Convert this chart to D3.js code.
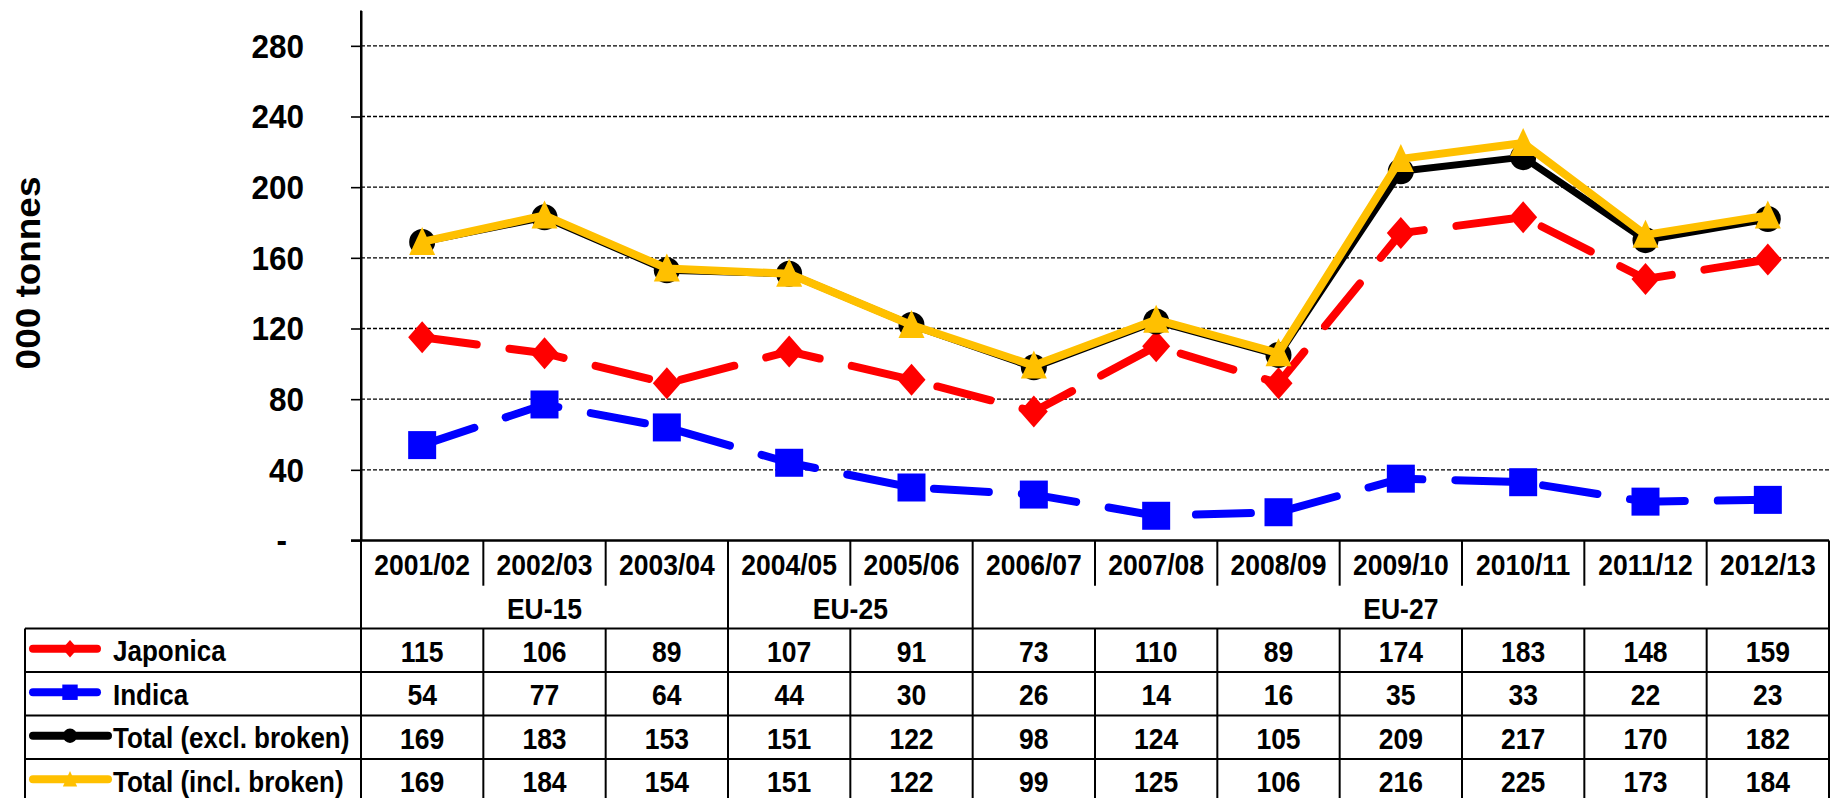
<!DOCTYPE html>
<html>
<head>
<meta charset="utf-8">
<script src="https://cdn.jsdelivr.net/npm/d3@7/dist/d3.min.js"></script>
<style>
  body { margin: 0; background: #fff; }
  text { font-family: "Liberation Sans", Arial, sans-serif; font-weight: bold; fill: #000; }
</style>
</head>
<body>
<div id="chart"></div>
<script>
// Données
const years = ["2001/02", "2002/03", "2003/04", "2004/05", "2005/06", "2006/07",
               "2007/08", "2008/09", "2009/10", "2010/11", "2011/12", "2012/13"];
const japonica  = [115, 106, 89, 107, 91, 73, 110, 89, 174, 183, 148, 159];
const indica    = [54, 77, 64, 44, 30, 26, 14, 16, 35, 33, 22, 23];
const totalExcl = [169, 183, 153, 151, 122, 98, 124, 105, 209, 217, 170, 182];
const totalIncl = [169, 184, 154, 151, 122, 99, 125, 106, 216, 225, 173, 184];
const seriesNames = ["Japonica", "Indica", "Total (excl. broken)", "Total (incl. broken)"];
const groupLabels = ["EU-15", "EU-25", "EU-27"];
const groupSizes = [3, 2, 7];
const yTicks = [0, 40, 80, 120, 160, 200, 240, 280];

// Styles des séries
const styles = [
  { color: "#FF0000", width: 8, dash: "55 33", marker: "diamond" },
  { color: "#0000FF", width: 8, dash: "55 33", marker: "square" },
  { color: "#000000", width: 7, dash: null,    marker: "circle" },
  { color: "#FFC000", width: 8, dash: null,    marker: "triangle" }
];
const seriesValues = [japonica, indica, totalExcl, totalIncl];

// Dimensions
const width = 1831, height = 798;
const axisX = 361, rightX = 1829;
const yearRowBottom = 585.7, euRowBottom = 628.5, rowH = 43.5;
const legendLeft = 25;
const stretch = 1.13; // le texte de l'original est un peu étiré en hauteur

const svg = d3.select("#chart").append("svg")
    .attr("width", width)
    .attr("height", height);

// Échelles
const x = d3.scaleBand().domain(years).range([axisX, rightX]);
const y = d3.scaleLinear().domain([0, 300]).range([540.5, 10.5]);
const cx = i => x(years[i]) + x.bandwidth() / 2;

// place un texte centré verticalement sur (px, py), étiré
function place(sel, fx, fy) {
  return sel.attr("transform", (d, i) => `translate(${fx(d, i)},${fy(d, i)}) scale(1,${stretch})`)
    .attr("dy", "0.36em");
}

// Lignes de grille
svg.append("g")
  .selectAll("line")
  .data(yTicks.filter(d => d > 0))
  .enter().append("line")
  .attr("x1", axisX).attr("x2", rightX)
  .attr("y1", d => y(d)).attr("y2", d => y(d))
  .attr("stroke", "#000")
  .attr("stroke-width", 1.4)
  .attr("stroke-dasharray", "4 2");

// Axe Y
const yAxis = svg.append("g")
  .attr("transform", `translate(${axisX},0)`)
  .call(d3.axisLeft(y).tickValues(yTicks).tickSize(10).tickSizeOuter(0).tickPadding(47)
        .tickFormat(d => d === 0 ? "-" : d));
yAxis.attr("font-size", 31.5);
yAxis.select(".domain").attr("stroke-width", 2);
yAxis.selectAll(".tick line").attr("stroke-width", 1.6);
yAxis.selectAll(".tick text")
  .attr("dy", "0.33em")
  .attr("x", d => d === 0 ? -74 : -57)
  .attr("transform", "scale(1,1.08)");

// Titre de l'axe Y
svg.append("text")
  .attr("transform", "translate(40,273) rotate(-90) scale(1.04,1)")
  .attr("text-anchor", "middle")
  .attr("font-size", 35.5)
  .text("000 tonnes");

// Formes des marqueurs
function markerPath(type, s) {
  const p = d3.path();
  if (type === "diamond") {
    p.moveTo(0, -16 * s); p.lineTo(14 * s, 0); p.lineTo(0, 16 * s); p.lineTo(-14 * s, 0); p.closePath();
  } else if (type === "square") {
    p.rect(-14 * s, -14 * s, 28 * s, 28 * s);
  } else if (type === "circle") {
    p.arc(0, 0, 13 * s, 0, 2 * Math.PI);
  } else {
    p.moveTo(0, -15 * s); p.lineTo(13 * s, 13 * s); p.lineTo(-13 * s, 13 * s); p.closePath();
  }
  return p.toString();
}

// Séries
const line = d3.line().x((d, i) => cx(i)).y(d => y(d));
seriesValues.forEach((vals, k) => {
  const st = styles[k];
  svg.append("path")
    .datum(vals)
    .attr("d", line)
    .attr("fill", "none")
    .attr("stroke", st.color)
    .attr("stroke-width", st.width)
    .attr("stroke-linecap", "round")
    .attr("stroke-linejoin", "round")
    .attr("stroke-dasharray", st.dash);
  svg.append("g")
    .selectAll("path")
    .data(vals)
    .enter().append("path")
    .attr("transform", (d, i) => `translate(${cx(i)},${y(d)})`)
    .attr("d", markerPath(st.marker, 1))
    .attr("fill", st.color);
});

// Tableau
const tbl = svg.append("g");
const stroke = (sel, w) => sel.attr("stroke", "#000").attr("stroke-width", w);

// ligne du zéro
stroke(tbl.append("line").attr("x1", axisX - 10).attr("x2", rightX)
  .attr("y1", y(0)).attr("y2", y(0)), 2.6);

// séparateurs horizontaux des lignes de données
const rowTops = seriesNames.map((d, i) => euRowBottom + i * rowH);
stroke(tbl.selectAll(".hrow").data(rowTops).enter().append("line")
  .attr("x1", legendLeft).attr("x2", rightX)
  .attr("y1", d => d).attr("y2", d => d), 2);

// bord gauche de la légende
stroke(tbl.append("line").attr("x1", legendLeft).attr("x2", legendLeft)
  .attr("y1", euRowBottom).attr("y2", height), 2);

// séparateurs verticaux
const groupEnds = d3.cumsum(groupSizes);
const colEdges = d3.range(years.length + 1);
stroke(tbl.selectAll(".vcol").data(colEdges).enter().append("line")
  .attr("x1", i => axisX + i * x.step()).attr("x2", i => axisX + i * x.step())
  .attr("y1", i => i === 0 ? y(300) : y(0))
  .attr("y2", i => (i === 0 || i === years.length || groupEnds.includes(i)) ? height : yearRowBottom), 2);
stroke(tbl.selectAll(".vcol2").data(colEdges.filter(i => i > 0 && i < years.length && !groupEnds.includes(i)))
  .enter().append("line")
  .attr("x1", i => axisX + i * x.step()).attr("x2", i => axisX + i * x.step())
  .attr("y1", euRowBottom).attr("y2", height), 2);

// années
place(tbl.selectAll(".year").data(years).enter().append("text"),
      (d, i) => cx(i), () => (y(0) + yearRowBottom) / 2 + 1)
  .attr("text-anchor", "middle")
  .attr("font-size", 26.5)
  .text(d => d);

// groupes UE
const groupStarts = groupEnds.map((e, i) => e - groupSizes[i]);
place(tbl.selectAll(".grp").data(groupLabels).enter().append("text"),
      (d, i) => axisX + (groupStarts[i] + groupSizes[i] / 2) * x.step(),
      () => (yearRowBottom + euRowBottom) / 2 + 1)
  .attr("text-anchor", "middle")
  .attr("font-size", 26.5)
  .text(d => d);

// valeurs
seriesValues.forEach((vals, k) => {
  const yc = rowTops[k] + rowH / 2 + 0.5;
  place(tbl.append("g").selectAll("text").data(vals).enter().append("text"),
        (d, i) => cx(i), () => yc)
    .attr("text-anchor", "middle")
    .attr("font-size", 26.5)
    .text(d => d);

  // légende
  const st = styles[k];
  const lx2 = k < 2 ? 97 : 108;
  tbl.append("line")
    .attr("x1", 33).attr("x2", lx2)
    .attr("y1", yc - 2).attr("y2", yc - 2)
    .attr("stroke", st.color)
    .attr("stroke-width", 8)
    .attr("stroke-linecap", "round");
  tbl.append("path")
    .attr("transform", `translate(70,${yc - 2})`)
    .attr("d", markerPath(st.marker, 0.55))
    .attr("fill", st.color);
  place(tbl.append("text"), () => 113, () => yc)
    .attr("font-size", 26)
    .text(seriesNames[k]);
});
</script>
</body>
</html>
